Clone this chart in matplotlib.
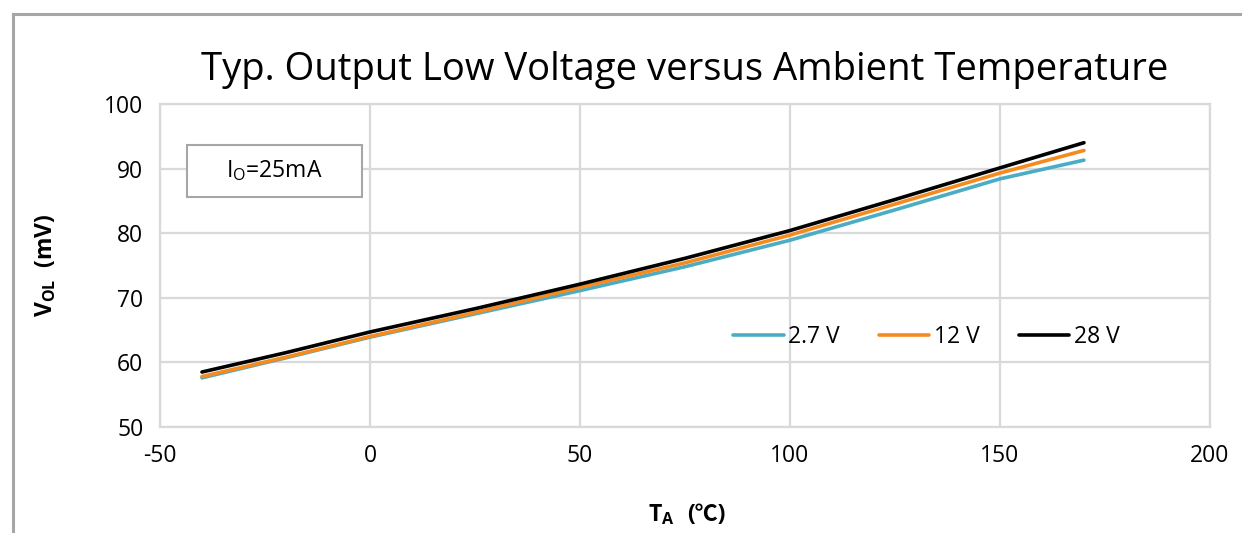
import matplotlib
matplotlib.use("Agg")
import matplotlib.pyplot as plt
from matplotlib.lines import Line2D
from matplotlib.patches import Rectangle

FONT = "Open Sans"
plt.rcParams["font.family"] = [FONT, "Noto Sans CJK SC", "DejaVu Sans"]
plt.rcParams["mathtext.fontset"] = "custom"
plt.rcParams["mathtext.rm"] = FONT
plt.rcParams["mathtext.it"] = FONT
plt.rcParams["mathtext.bf"] = FONT + ":bold"
plt.rcParams["axes.unicode_minus"] = False

# ambient temperature (degC)
temps = [-40, -20, 0, 25, 50, 75, 100, 125, 150, 170]
# output low voltage (mV) per supply voltage
vol_2v7 = [57.6, 60.7, 63.9, 67.5, 71.1, 74.8, 78.9, 83.6, 88.4, 91.3]
vol_12v = [57.8, 60.8, 64.0, 67.7, 71.6, 75.4, 79.7, 84.5, 89.3, 92.8]
vol_28v = [58.5, 61.5, 64.7, 68.3, 72.1, 76.1, 80.4, 85.2, 90.1, 94.0]
labels = ["2.7 V", "12 V", "28 V"]
colors = ["#4bacc6", "#f58b1f", "#000000"]

fig = plt.figure(figsize=(12.42, 5.33), dpi=100)
ax = fig.add_axes([0.1288, 0.199, 0.8454, 0.606])

for ys, lab, c in zip([vol_2v7, vol_12v, vol_28v], labels, colors):
    ax.plot(temps, ys, color=c, lw=2.6, label=lab, solid_capstyle="round")

ax.set_xlim(-50, 200)
ax.set_ylim(50, 100)
ax.set_xticks(range(-50, 201, 50))
ax.set_yticks(range(50, 101, 10))
ax.grid(True, color="#d9d9d9", lw=1.6)
ax.set_axisbelow(True)
for s in ax.spines.values():
    s.set_color("#d9d9d9")
    s.set_linewidth(1.6)
ax.tick_params(length=0, labelsize=16.5, pad=12)

ax.set_title("Typ. Output Low Voltage versus Ambient Temperature", fontsize=27.5, pad=17)
ax.set_ylabel(r"V$_\mathbf{OL}$  (mV)", fontsize=16.5, fontweight="bold", labelpad=33)

# x label in two pieces so the degree sign can use a fallback font
fig.text(675 / 1242, 0.0225, r"T$_\mathbf{A}$", fontsize=16.5, fontweight="bold",
         ha="right", va="baseline")
fig.text(687 / 1242, 0.0225, "(℃)", fontsize=16.5, fontweight="bold",
         ha="left", va="baseline")

# annotation box
ax.add_patch(Rectangle((0.0257, 0.712), 0.1667, 0.161, transform=ax.transAxes,
                       fc="white", ec="#a6a6a6", lw=1.5, zorder=3))
ax.text(0.109, 0.792, r"I$_\mathrm{O}$=25mA", transform=ax.transAxes, fontsize=16.5,
        ha="center", va="center", zorder=4)

ax.legend(loc="center", bbox_to_anchor=(0.730, 0.279), ncol=3, frameon=False,
          fontsize=16.5, handlelength=2.2, handletextpad=0.2, columnspacing=1.7)

# outer chart frame
fig.add_artist(Line2D([0.0105, 0.0105], [0.0, 0.974], color="#a6a6a6", lw=2.2))
fig.add_artist(Line2D([0.0105, 1.0], [0.974, 0.974], color="#a6a6a6", lw=2.2))

fig.savefig("out.png", dpi=100)
